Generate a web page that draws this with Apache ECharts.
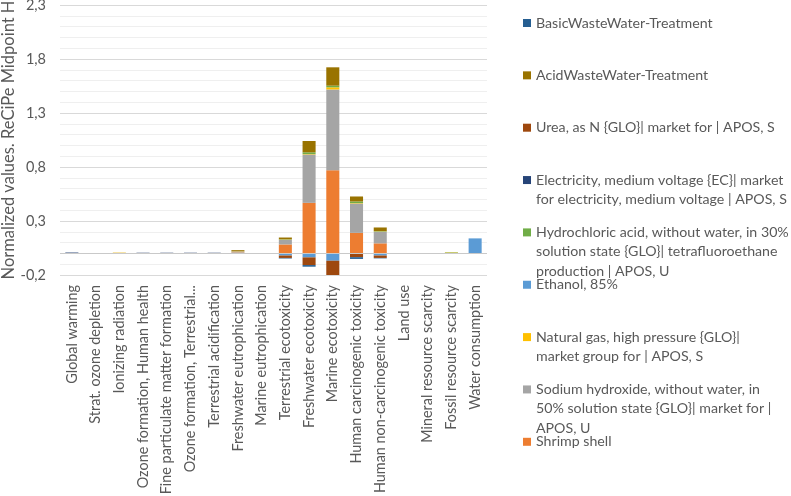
<!DOCTYPE html>
<html>
<head>
<meta charset="utf-8">
<script src="https://cdn.jsdelivr.net/npm/echarts@6/dist/echarts.min.js"></script>
<style>html,body{margin:0;padding:0;background:#fff;}#c{width:791px;height:496px;}</style>
</head>
<body>
<div id="c"></div>
<script>
const categories = ['Global warming','Strat. ozone depletion','Ionizing radiation','Ozone formation, Human health','Fine particulate matter formation','Ozone formation, Terrestrial...','Terrestrial acidification','Freshwater eutrophication','Marine eutrophication','Terrestrial ecotoxicity','Freshwater ecotoxicity','Marine ecotoxicity','Human carcinogenic toxicity','Human non-carcinogenic toxicity','Land use','Mineral resource scarcity','Fossil resource scarcity','Water consumption'];

const shrimpShell     = [0.002,0,0.002,0.002,0.002,0.002,0.002,0.008,0,0.083,0.468,0.771,0.190,0.093,0,0,0.002,0];
const sodiumHydroxide = [0.003,0,0.003,0.003,0.003,0.003,0.003,0.010,0,0.043,0.448,0.747,0.272,0.107,0,0,0.004,0];
const naturalGas      = [0,0,0.003,0,0,0,0,0.002,0,0.002,0.004,0.020,0.004,0.002,0,0,0.004,0];
const ethanol         = [0,0,0,0,0,0,0,0,0,-0.020,-0.037,-0.068,-0.005,-0.020,0,0,0,0.139];
const hydrochloric    = [0,0,0,0,0,0,0,0,0,0.003,0.016,0.015,0.015,0.004,0,0,0.003,0];
const electricity     = [0.004,0,0,0.002,0.002,0.002,0.002,0,0,0,0,0,0,0,0,0,0,0];
const urea            = [0,0,0,0,0,0,0,0,0,-0.022,-0.071,-0.132,-0.030,-0.022,0,0,0,0];
const acidWW          = [0,0,0,0,0,0,0,0.010,0,0.016,0.105,0.170,0.046,0.034,0,0,0,0];
const basicWW         = [0,0,0,0,0,0,0,0,0,-0.005,-0.015,-0.010,-0.016,-0.004,0,0,0,0];

const seriesNames = [
  'Shrimp shell',
  'Sodium hydroxide, without water, in 50% solution state {GLO}| market for | APOS, U',
  'Natural gas, high pressure {GLO}| market group for | APOS, S',
  'Ethanol, 85%',
  'Hydrochloric acid, without water, in 30% solution state {GLO}| tetrafluoroethane production | APOS, U',
  'Electricity, medium voltage {EC}| market for electricity, medium voltage | APOS, S',
  'Urea, as N {GLO}| market for | APOS, S',
  'AcidWasteWater-Treatment',
  'BasicWasteWater-Treatment'
];
const legendLabels = [
  'Shrimp shell',
  'Sodium hydroxide, without water, in\n50% solution state {GLO}| market for |\nAPOS, U',
  'Natural gas, high pressure {GLO}|\nmarket group for | APOS, S',
  'Ethanol, 85%',
  'Hydrochloric acid, without water, in 30%\nsolution state {GLO}| tetrafluoroethane\nproduction | APOS, U',
  'Electricity, medium voltage {EC}| market\nfor electricity, medium voltage | APOS, S',
  'Urea, as N {GLO}| market for | APOS, S',
  'AcidWasteWater-Treatment',
  'BasicWasteWater-Treatment'
];
const seriesValues = [shrimpShell, sodiumHydroxide, naturalGas, ethanol, hydrochloric, electricity, urea, acidWW, basicWW];
const seriesColors = ['#ed7d31','#a5a5a5','#ffc000','#5b9bd5','#70ad47','#264478','#9e480e','#997300','#255e91'];

const FONT = 'Lato';
const TXT = '#595959';
const LH = 19.3;

const series = seriesNames.map((n, i) => ({
  name: n,
  type: 'bar',
  stack: 'total',
  barWidth: '55%',
  data: seriesValues[i],
  itemStyle: { color: seriesColors[i] },
  emphasis: { disabled: true }
}));
series[0].markLine = {
  silent: true,
  symbol: 'none',
  label: { show: false },
  lineStyle: { color: '#c9c9c9', type: 'solid', width: 1 },
  data: [{ yAxis: 0 }],
  z: 10
};

// legend: listed top-to-bottom in reverse stacking order; icon sits on the first text line
const legends = [];
for (let k = 0; k < 9; k++) {
  const idx = 8 - k;
  const nLines = legendLabels[idx].split('\n').length;
  const shown = '\n'.repeat(nLines - 1) + legendLabels[idx];
  const iconY = 23 + 52.35 * k;
  legends.push({
    data: [seriesNames[idx]],
    orient: 'vertical',
    left: 523,
    top: iconY - (2 * nLines - 1) * LH / 2,
    padding: 0,
    itemGap: 0,
    itemWidth: 8,
    itemHeight: 8,
    icon: 'rect',
    selectedMode: false,
    formatter: () => shown,
    textStyle: { fontFamily: FONT, fontSize: 14.2, color: TXT, lineHeight: LH }
  });
}

const chart = echarts.init(document.getElementById('c'), null, { renderer: 'canvas' });
chart.setOption({
  animation: false,
  textStyle: { fontFamily: FONT },
  grid: { left: 60, right: 304, top: 5, bottom: 221, containLabel: false, outerBoundsMode: 'none' },
  legend: legends,
  xAxis: {
    type: 'category',
    data: categories,
    axisLine: { show: false, onZero: false },
    axisTick: { show: false },
    axisLabel: { interval: 0, rotate: 90, margin: 10, fontFamily: FONT, fontSize: 14.4, color: TXT }
  },
  yAxis: {
    type: 'value',
    min: -0.2,
    max: 2.3,
    interval: 0.1,
    name: 'Normalized values. ReCiPe Midpoint H',
    nameLocation: 'middle',
    nameGap: 43,
    nameMoveOverlap: false,
    nameTextStyle: { fontFamily: FONT, fontSize: 16.5, color: TXT },
    axisLine: { show: false },
    axisTick: { show: false },
    axisLabel: {
      margin: 14,
      fontFamily: FONT,
      fontSize: 14.5,
      color: TXT,
      formatter: v => {
        const r = Math.round(v * 10);
        if ((r + 2) % 5 !== 0) return '';
        return (r / 10).toFixed(1).replace('.', ',');
      }
    },
    splitLine: { lineStyle: { color: ['#d9d9d9', '#efefef', '#efefef', '#efefef', '#efefef'], width: 1 } }
  },
  series: series
});
</script>
</body>
</html>
